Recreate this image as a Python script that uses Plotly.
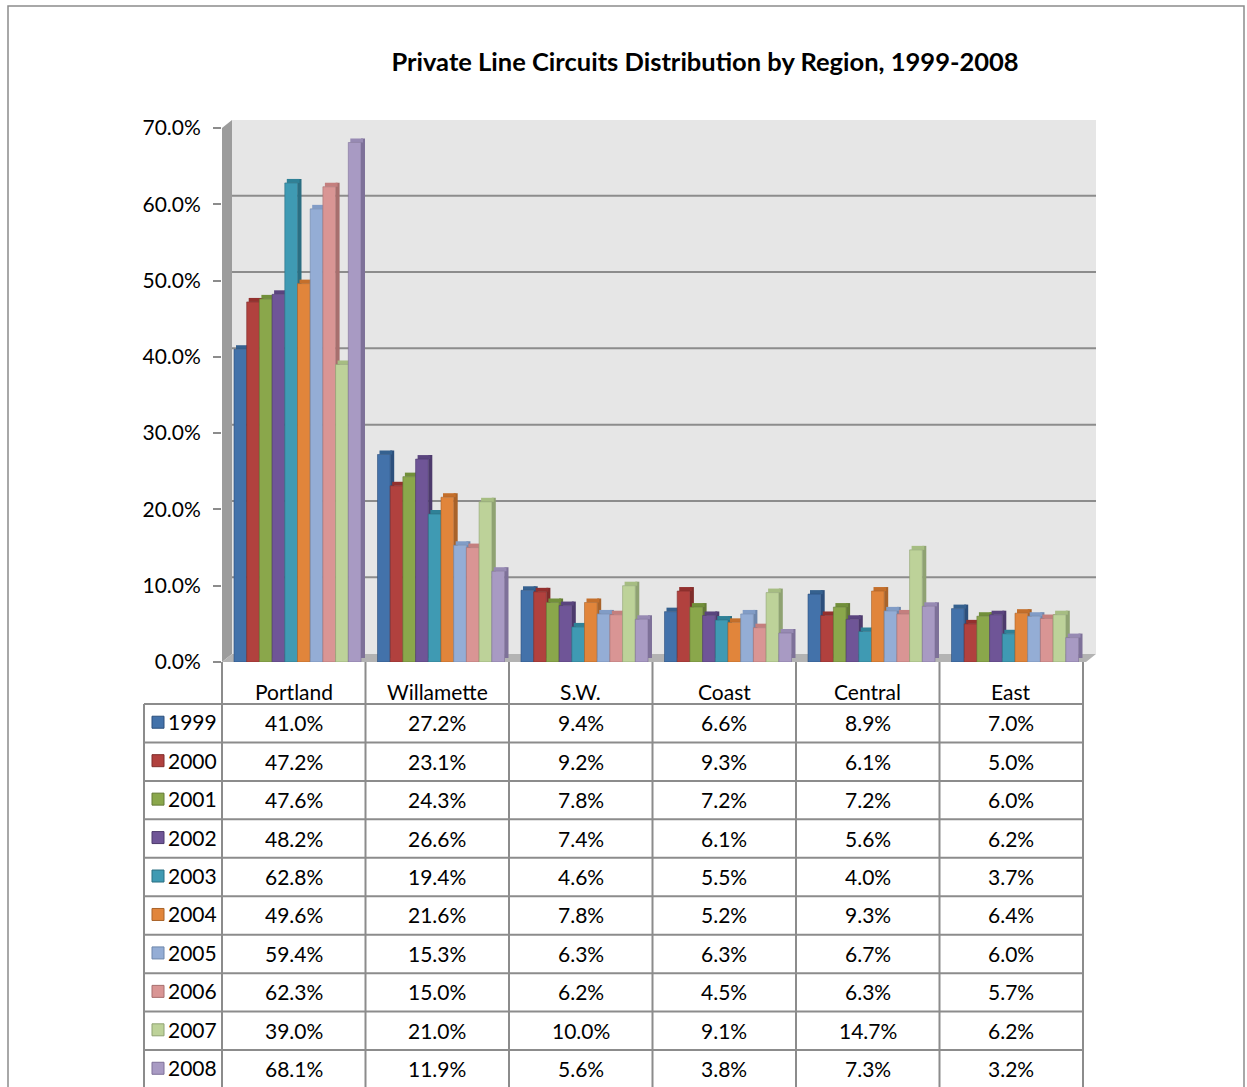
import plotly.graph_objects as go

# ---- data -------------------------------------------------------------
regions = ["Portland", "Willamette", "S.W.", "Coast", "Central", "East"]
years = ["1999", "2000", "2001", "2002", "2003", "2004", "2005", "2006", "2007", "2008"]

v1999 = [41.0, 27.2, 9.4, 6.6, 8.9, 7.0]
v2000 = [47.2, 23.1, 9.2, 9.3, 6.1, 5.0]
v2001 = [47.6, 24.3, 7.8, 7.2, 7.2, 6.0]
v2002 = [48.2, 26.6, 7.4, 6.1, 5.6, 6.2]
v2003 = [62.8, 19.4, 4.6, 5.5, 4.0, 3.7]
v2004 = [49.6, 21.6, 7.8, 5.2, 9.3, 6.4]
v2005 = [59.4, 15.3, 6.3, 6.3, 6.7, 6.0]
v2006 = [62.3, 15.0, 6.2, 4.5, 6.3, 5.7]
v2007 = [39.0, 21.0, 10.0, 9.1, 14.7, 6.2]
v2008 = [68.1, 11.9, 5.6, 3.8, 7.3, 3.2]

series = [v1999, v2000, v2001, v2002, v2003, v2004, v2005, v2006, v2007, v2008]

y_ticks = [0, 10, 20, 30, 40, 50, 60, 70]
y_ticktext = [f"{t:.1f}%" for t in y_ticks]

# face colours per year: (front, side, top)
palette = [
    ("#4372aa", "#2c4f7c", "#35618f"),
    ("#b1413e", "#7f2d2b", "#93302e"),
    ("#8aa74b", "#647a36", "#718f3a"),
    ("#6f5597", "#4d3a6c", "#5a447e"),
    ("#3f9ab3", "#2b6e82", "#2f8197"),
    ("#e1853b", "#a9632a", "#c46f2b"),
    ("#94add5", "#6e86ab", "#819cc6"),
    ("#d99594", "#a76f6e", "#c47f7e"),
    ("#bdd299", "#8fa272", "#a6bd82"),
    ("#a89ac3", "#7e7199", "#978ab3"),
]

# ---- page geometry (pixels) -------------------------------------------
W, H = 1247, 1087
PLOT_L, PLOT_R = 222, 1083          # category axis span (= table columns)
Y0_PX, Y70_PX = 662, 128            # 0% and 70% on the value axis
DEPTH_X, DEPTH_Y = 10, 8            # back-wall offset of the 3-D frame
GRID = "#8c8c8c"
FONT = "Lato"


def px(x):
    return x / W


def py(y):
    return 1 - y / H


cat_w_px = (PLOT_R - PLOT_L) / len(regions)
pitch = 12.7 / cat_w_px                 # bar spacing in category units
first_off = -0.5 + 12 / cat_w_px        # left edge of first bar in a group
side_dx = 4 / cat_w_px                  # bar depth, horizontal
side_dy = 4 * 70 / (Y0_PX - Y70_PX)     # bar depth, vertical (value units)
grid_dy = 8.5 * 70 / (Y0_PX - Y70_PX)   # back-wall grid lift

fig = go.Figure()
xs = list(range(len(regions)))

for j, (yr, vals) in enumerate(zip(years, series)):
    front, side, top = palette[j]
    off = first_off + j * pitch
    # right-hand side face
    fig.add_trace(go.Bar(
        x=xs, y=vals, base=side_dy, offset=off + pitch, width=side_dx,
        marker=dict(color=side, line=dict(width=0)),
        showlegend=False, hoverinfo="skip"))
    # top face
    fig.add_trace(go.Bar(
        x=xs, y=[side_dy] * len(vals), base=vals, offset=off + side_dx / 2, width=pitch,
        marker=dict(color=top, line=dict(width=0)),
        showlegend=False, hoverinfo="skip"))
    # front face
    fig.add_trace(go.Bar(
        x=xs, y=vals, offset=off, width=pitch, name=yr,
        marker=dict(color=front, line=dict(width=0.6, color=side)),
        showlegend=False,
        hovertemplate="%{y:.1f}%<extra>" + yr + "</extra>"))

shapes = []

# back wall
shapes.append(dict(type="rect", xref="paper", yref="paper", layer="below",
                   x0=px(PLOT_L + DEPTH_X), x1=px(PLOT_R + 13),
                   y0=py(Y0_PX - DEPTH_Y), y1=py(Y70_PX - DEPTH_Y),
                   fillcolor="#e6e6e6", line=dict(width=0)))
# left wall
shapes.append(dict(type="path", xref="paper", yref="paper", layer="below",
                   path=(f"M{px(PLOT_L)},{py(Y70_PX)} L{px(PLOT_L + DEPTH_X)},{py(Y70_PX - DEPTH_Y)} "
                         f"L{px(PLOT_L + DEPTH_X)},{py(Y0_PX - DEPTH_Y)} L{px(PLOT_L)},{py(Y0_PX)} Z"),
                   fillcolor="#9c9c9c", line=dict(width=0)))
# floor
shapes.append(dict(type="path", xref="paper", yref="paper", layer="below",
                   path=(f"M{px(PLOT_L)},{py(Y0_PX)} L{px(PLOT_L + DEPTH_X)},{py(Y0_PX - DEPTH_Y)} "
                         f"L{px(PLOT_R + 13)},{py(Y0_PX - DEPTH_Y)} L{px(PLOT_R + 3)},{py(Y0_PX)} Z"),
                   fillcolor="#b3b3b3", line=dict(width=0)))
# back-wall gridlines
for t in y_ticks[1:]:
    shapes.append(dict(type="line", xref="paper", yref="y", layer="below",
                       x0=px(PLOT_L + DEPTH_X), x1=px(PLOT_R + 13),
                       y0=t + grid_dy, y1=t + grid_dy,
                       line=dict(color=GRID, width=1 if t == 70 else 2)))

# ---- data table ---------------------------------------------------------
TAB_L = 144
HEAD_TOP = Y0_PX
ROW_TOP = 704
ROW_H = 38.45
col_edges = [PLOT_L + k * cat_w_px for k in range(len(regions) + 1)]
tab_bottom = ROW_TOP + ROW_H * len(years)

for k, xe in enumerate(col_edges):
    shapes.append(dict(type="line", xref="paper", yref="paper",
                       x0=px(xe), x1=px(xe), y0=py(HEAD_TOP), y1=py(tab_bottom + 2),
                       line=dict(color=GRID, width=2)))
shapes.append(dict(type="line", xref="paper", yref="paper",
                   x0=px(TAB_L), x1=px(TAB_L), y0=py(ROW_TOP), y1=py(tab_bottom + 2),
                   line=dict(color=GRID, width=2)))
for r in range(len(years) + 1):
    yline = ROW_TOP + r * ROW_H
    shapes.append(dict(type="line", xref="paper", yref="paper",
                       x0=px(TAB_L), x1=px(PLOT_R), y0=py(yline), y1=py(yline),
                       line=dict(color=GRID, width=2)))

annotations = []
txt = dict(family=FONT, size=21, color="#000000")

# column headers
for k, name in enumerate(regions):
    annotations.append(dict(xref="paper", yref="paper", x=px(col_edges[k] + cat_w_px / 2),
                            y=py(691), text=name, showarrow=False, font=txt,
                            xanchor="center", yanchor="middle"))

# rows: legend key, year, values
for r, (yr, vals) in enumerate(zip(years, series)):
    yc = ROW_TOP + r * ROW_H + ROW_H / 2
    front, side, _ = palette[r]
    shapes.append(dict(type="rect", xref="paper", yref="paper",
                       x0=px(152), x1=px(164), y0=py(yc + 5), y1=py(yc - 7),
                       fillcolor=front, line=dict(color=side, width=1)))
    annotations.append(dict(xref="paper", yref="paper", x=px(166), y=py(yc - 1.5),
                            text=yr, showarrow=False, font=txt,
                            xanchor="left", yanchor="middle"))
    for k, v in enumerate(vals):
        annotations.append(dict(xref="paper", yref="paper",
                                x=px(col_edges[k] + cat_w_px / 2), y=py(yc - 0.5),
                                text=f"{v:.1f}%", showarrow=False, font=txt,
                                xanchor="center", yanchor="middle"))

# outer chart frame
shapes.append(dict(type="rect", xref="paper", yref="paper", layer="below",
                   x0=px(8), x1=px(1244), y0=py(1100), y1=py(6),
                   line=dict(color="#8c8c8c", width=1.5), fillcolor="rgba(0,0,0,0)"))

fig.update_layout(
    width=W, height=H, autosize=False,
    margin=dict(l=0, r=0, t=0, b=0, pad=0, autoexpand=False),
    paper_bgcolor="white", plot_bgcolor="rgba(0,0,0,0)",
    barmode="overlay",
    showlegend=False,
    title=dict(text="<b>Private Line Circuits Distribution by Region, 1999-2008</b>",
               x=px(705), xanchor="center", y=py(62), yanchor="middle",
               font=dict(family=FONT, size=25.5, color="#000000")),
    xaxis=dict(domain=[px(PLOT_L), px(PLOT_R)], range=[-0.5, len(regions) - 0.5],
               showticklabels=False, showgrid=False, zeroline=False, showline=False,
               ticks="", fixedrange=True, automargin=False),
    yaxis=dict(domain=[py(Y0_PX), py(Y70_PX)], range=[0, 70],
               tickmode="array", tickvals=y_ticks, ticktext=y_ticktext,
               ticks="outside", ticklen=8, tickcolor=GRID, tickwidth=1.5,
               ticklabelstandoff=8,
               tickfont=dict(family=FONT, size=21, color="#000000"),
               showgrid=False, zeroline=False, showline=False, fixedrange=True,
               automargin=False),
    shapes=shapes,
    annotations=annotations,
)

fig.write_html("out.html")
